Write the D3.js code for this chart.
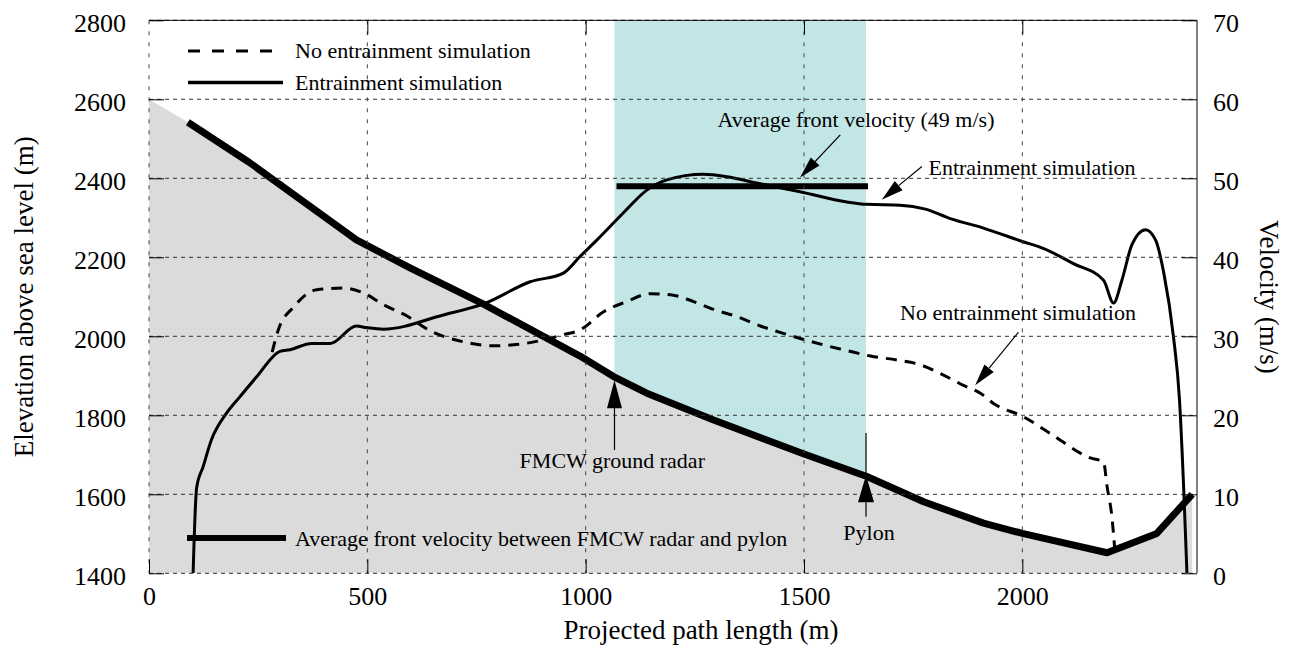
<!DOCTYPE html>
<html>
<head>
<meta charset="utf-8">
<script src="https://cdnjs.cloudflare.com/ajax/libs/d3/7.8.5/d3.min.js"></script>
<style>
    body { margin: 0; background: #fff; }
    text { font-family: "Liberation Serif", "Times New Roman", serif; fill: #000; }
</style>
</head>
<body>
<div id="chart"></div>
<script>
// path profile (distance m, elevation m)
const pathDist = [89, 230, 475, 600, 765, 987, 1064, 1140, 1293, 1500, 1644, 1774, 1911, 2000, 2194, 2308, 2389];
const pathElev = [2542, 2440, 2244, 2172, 2082, 1950, 1898, 1856, 1788, 1702, 1645, 1581, 1527, 1501, 1452, 1501, 1600];
const terrainTop = [0, 2600];

// entrainment simulation (velocity m/s)
const entDist = [101, 109, 124, 143, 178, 209, 247, 300, 323, 372, 415, 475, 498, 537, 674, 766, 873, 949, 987,
    1026, 1086, 1140, 1186, 1270, 1323, 1392, 1491, 1598, 1644, 1720, 1778, 1835, 1911, 2000, 2049, 2117, 2186,
    2209, 2228, 2251, 2282, 2305, 2324, 2346, 2360, 2370, 2377];
const entVel = [0, 10.8, 13.5, 16.9, 20.3, 22.4, 24.9, 28.1, 28.3, 29.1, 29.1, 31.3, 31.1, 30.9, 32.7, 34.1, 36.9, 38.0, 40.1,
    42.2, 45.6, 48.5, 49.8, 50.5, 50.2, 49.4, 48.3, 47.0, 46.7, 46.6, 46.1, 44.9, 43.7, 42.0, 41.1, 39.2, 37.1,
    34.2, 37.1, 41.6, 43.5, 42.2, 38.0, 30.0, 21.9, 10.1, 0];

// no entrainment simulation
const noEntDist = [282, 296, 331, 384, 445, 491, 537, 590, 644, 720, 789, 873, 949, 987, 1041, 1094, 1148, 1201,
    1247, 1293, 1346, 1400, 1445, 1499, 1545, 1598, 1652, 1713, 1766, 1812, 1865, 1904, 1934, 2003, 2064, 2156,
    2186, 2194, 2205, 2213];
const noEntVel = [28.0, 30.8, 33.7, 35.9, 36.1, 35.5, 34.0, 32.6, 30.7, 29.3, 28.8, 29.2, 30.2, 30.8, 33.1, 34.4, 35.4, 35.2,
    34.4, 33.4, 32.5, 31.3, 30.5, 29.6, 28.9, 28.2, 27.5, 27.0, 26.4, 25.3, 23.8, 22.8, 21.5, 19.8, 17.7, 14.6,
    14.1, 11.0, 7.2, 2.1];

// radar and pylon positions, average front velocity
const radarDist = 1066, radarElev = 1889;
const pylonDist = 1642, pylonElev = 1648;
const avgVel = 49;

const xTicks = [0, 500, 1000, 1500, 2000];
const elevTicks = [1400, 1600, 1800, 2000, 2200, 2400, 2600, 2800];
const velTicks = [0, 10, 20, 30, 40, 50, 60, 70];

let width = 1291, height = 649;
let margin = {left: 149, right: 94, top: 20.3, bottom: 75.7};
let iw = width - margin.left - margin.right,
    ih = height - margin.top - margin.bottom;

let x = d3.scaleLinear().domain([0, 2400]).range([0, iw]);
let yE = d3.scaleLinear().domain([1400, 2800]).range([ih, 0]);
let yV = d3.scaleLinear().domain([0, 70]).range([ih, 0]);

let svg = d3.select("#chart").append("svg")
    .attr("width", width)
    .attr("height", height);

let defs = svg.append("defs");
defs.append("clipPath").attr("id", "plotclip")
    .append("rect").attr("width", iw).attr("height", ih);

let g = svg.append("g").attr("transform", `translate(${margin.left},${margin.top})`);
let plot = g.append("g").attr("clip-path", "url(#plotclip)");

// band between radar and pylon
plot.append("rect")
    .attr("x", x(radarDist))
    .attr("y", 0)
    .attr("width", x(pylonDist) - x(radarDist))
    .attr("height", ih)
    .attr("fill", "#c2e6e6");

// terrain
let path = pathDist.map((d, i) => [d, pathElev[i]]);
let terrain = [terrainTop].concat(path);
let area = d3.area()
    .x(d => x(d[0]))
    .y0(ih)
    .y1(d => yE(d[1]));
plot.append("path")
    .datum(terrain)
    .attr("d", area)
    .attr("fill", "#dbdbdb");

// grid
g.append("g").selectAll("line")
    .data(elevTicks)
    .enter().append("line")
    .attr("x1", 0).attr("x2", iw)
    .attr("y1", d => yE(d)).attr("y2", d => yE(d))
    .attr("stroke", "#333")
    .attr("stroke-width", 1)
    .attr("stroke-dasharray", "4,4");

g.append("g").selectAll("line")
    .data(xTicks)
    .enter().append("line")
    .attr("x1", d => x(d)).attr("x2", d => x(d))
    .attr("y1", 0).attr("y2", ih)
    .attr("stroke", "#444")
    .attr("stroke-width", 1)
    .attr("stroke-dasharray", "4,7");

// frame: top and right solid
g.append("line").attr("x1", 0).attr("x2", iw).attr("y1", 0).attr("y2", 0)
    .attr("stroke", "#000").attr("stroke-width", 1);
g.append("line").attr("x1", iw).attr("x2", iw).attr("y1", 0).attr("y2", ih)
    .attr("stroke", "#000").attr("stroke-width", 1);

// axes
let fontTick = "26px";
let fmt = d3.format("d");
let axL = g.append("g")
    .call(d3.axisLeft(yE).tickValues(elevTicks).tickFormat(fmt)
        .tickSizeInner(-15).tickSizeOuter(0).tickPadding(23));
let axR = g.append("g").attr("transform", `translate(${iw},0)`)
    .call(d3.axisRight(yV).tickValues(velTicks).tickFormat(fmt)
        .tickSizeInner(-15).tickSizeOuter(0).tickPadding(16));
let axB = g.append("g").attr("transform", `translate(0,${ih})`)
    .call(d3.axisBottom(x).tickValues(xTicks).tickFormat(fmt)
        .tickSizeInner(-14).tickSizeOuter(0).tickPadding(13));
let axT = g.append("g")
    .call(d3.axisTop(x).tickValues(xTicks.slice(1)).tickSizeInner(-14).tickSizeOuter(0).tickFormat(""));

[axL, axR, axB, axT].forEach(a => {
    a.select(".domain").remove();
    a.selectAll(".tick line").attr("stroke", "#000").attr("stroke-width", 1);
    a.selectAll("text")
        .style("font-family", '"Liberation Serif", serif')
        .style("font-size", fontTick)
        .attr("fill", "#000");
});
axL.selectAll("text").attr("dy", "0.42em");
axR.selectAll("text").attr("dy", "0.42em");

// curves
let lineV = d3.line()
    .x(d => x(d[0]))
    .y(d => yV(d[1]))
    .curve(d3.curveMonotoneX);

plot.append("path")
    .datum(noEntDist.map((d, i) => [d, noEntVel[i]]))
    .attr("d", lineV)
    .attr("fill", "none")
    .attr("stroke", "#000")
    .attr("stroke-width", 3)
    .attr("stroke-dasharray", "11,8");

plot.append("path")
    .datum(entDist.map((d, i) => [d, entVel[i]]))
    .attr("d", lineV)
    .attr("fill", "none")
    .attr("stroke", "#000")
    .attr("stroke-width", 3)
    .attr("stroke-linejoin", "round");

let lineE = d3.line()
    .x(d => x(d[0]))
    .y(d => yE(d[1]));

plot.append("path")
    .datum(path)
    .attr("d", lineE)
    .attr("fill", "none")
    .attr("stroke", "#000")
    .attr("stroke-width", 7)
    .attr("stroke-linejoin", "round");

// average front velocity bar
plot.append("line")
    .attr("x1", x(radarDist) + 2).attr("x2", x(pylonDist) + 2)
    .attr("y1", yV(avgVel)).attr("y2", yV(avgVel))
    .attr("stroke", "#000")
    .attr("stroke-width", 6);

// annotations
function arrow(x1, y1, x2, y2, len, wid) {
    let a = Math.atan2(y2 - y1, x2 - x1);
    let bx = x2 - len * Math.cos(a), by = y2 - len * Math.sin(a);
    let px = -Math.sin(a) * wid / 2, py = Math.cos(a) * wid / 2;
    g.append("line")
        .attr("x1", x1).attr("y1", y1).attr("x2", bx).attr("y2", by)
        .attr("stroke", "#000").attr("stroke-width", 1.2);
    g.append("path")
        .attr("d", `M${x2},${y2}L${bx + px},${by + py}L${bx - px},${by - py}Z`)
        .attr("fill", "#000");
}

function label(txt, px, py, anchor) {
    g.append("text")
        .attr("x", px).attr("y", py)
        .attr("text-anchor", anchor || "start")
        .style("font-size", "22px")
        .text(txt);
}

arrow(x(1583), yV(55.5), x(1491), yV(50.1), 22, 12);
label("Average front velocity (49 m/s)", x(1302), yV(56.5));

arrow(x(1770), yV(51.5), x(1678), yV(47.3), 22, 12);
label("Entrainment simulation", x(1785), yV(50.4));

arrow(x(1991), yV(30.5), x(1892), yV(23.8), 22, 12);
label("No entrainment simulation", x(1720), yV(32.1));

arrow(x(radarDist), yE(1712), x(radarDist), yE(radarElev), 28, 15);
label("FMCW ground radar", x(1061), yE(1667), "middle");

arrow(x(pylonDist), yE(1543), x(pylonDist), yE(pylonElev), 27, 16);
g.append("line")
    .attr("x1", x(pylonDist)).attr("x2", x(pylonDist))
    .attr("y1", yE(1755)).attr("y2", yE(pylonElev))
    .attr("stroke", "#000").attr("stroke-width", 1.2);
label("Pylon", x(1590), yE(1485));

// legend
let lg = svg.append("g");
lg.append("line").attr("x1", 188).attr("x2", 283).attr("y1", 51).attr("y2", 51)
    .attr("stroke", "#000").attr("stroke-width", 3).attr("stroke-dasharray", "12,12");
lg.append("text").attr("x", 295).attr("y", 58).style("font-size", "22px").text("No entrainment simulation");
lg.append("line").attr("x1", 188).attr("x2", 283).attr("y1", 82.5).attr("y2", 82.5)
    .attr("stroke", "#000").attr("stroke-width", 3.5);
lg.append("text").attr("x", 295).attr("y", 90).style("font-size", "22px").text("Entrainment simulation");
lg.append("line").attr("x1", 187).attr("x2", 286).attr("y1", 538).attr("y2", 538)
    .attr("stroke", "#000").attr("stroke-width", 6);
lg.append("text").attr("x", 295).attr("y", 546).style("font-size", "22px")
    .text("Average front velocity between FMCW radar and pylon");

// axis titles
svg.append("text")
    .attr("transform", `translate(701,639)`)
    .attr("text-anchor", "middle")
    .style("font-size", "27px")
    .text("Projected path length (m)");
svg.append("text")
    .attr("transform", `translate(33,${margin.top + ih / 2}) rotate(-90)`)
    .attr("text-anchor", "middle")
    .style("font-size", "27px")
    .text("Elevation above sea level (m)");
svg.append("text")
    .attr("transform", `translate(1260,${margin.top + ih / 2}) rotate(90)`)
    .attr("text-anchor", "middle")
    .style("font-size", "27px")
    .text("Velocity (m/s)");
</script>
</body>
</html>
